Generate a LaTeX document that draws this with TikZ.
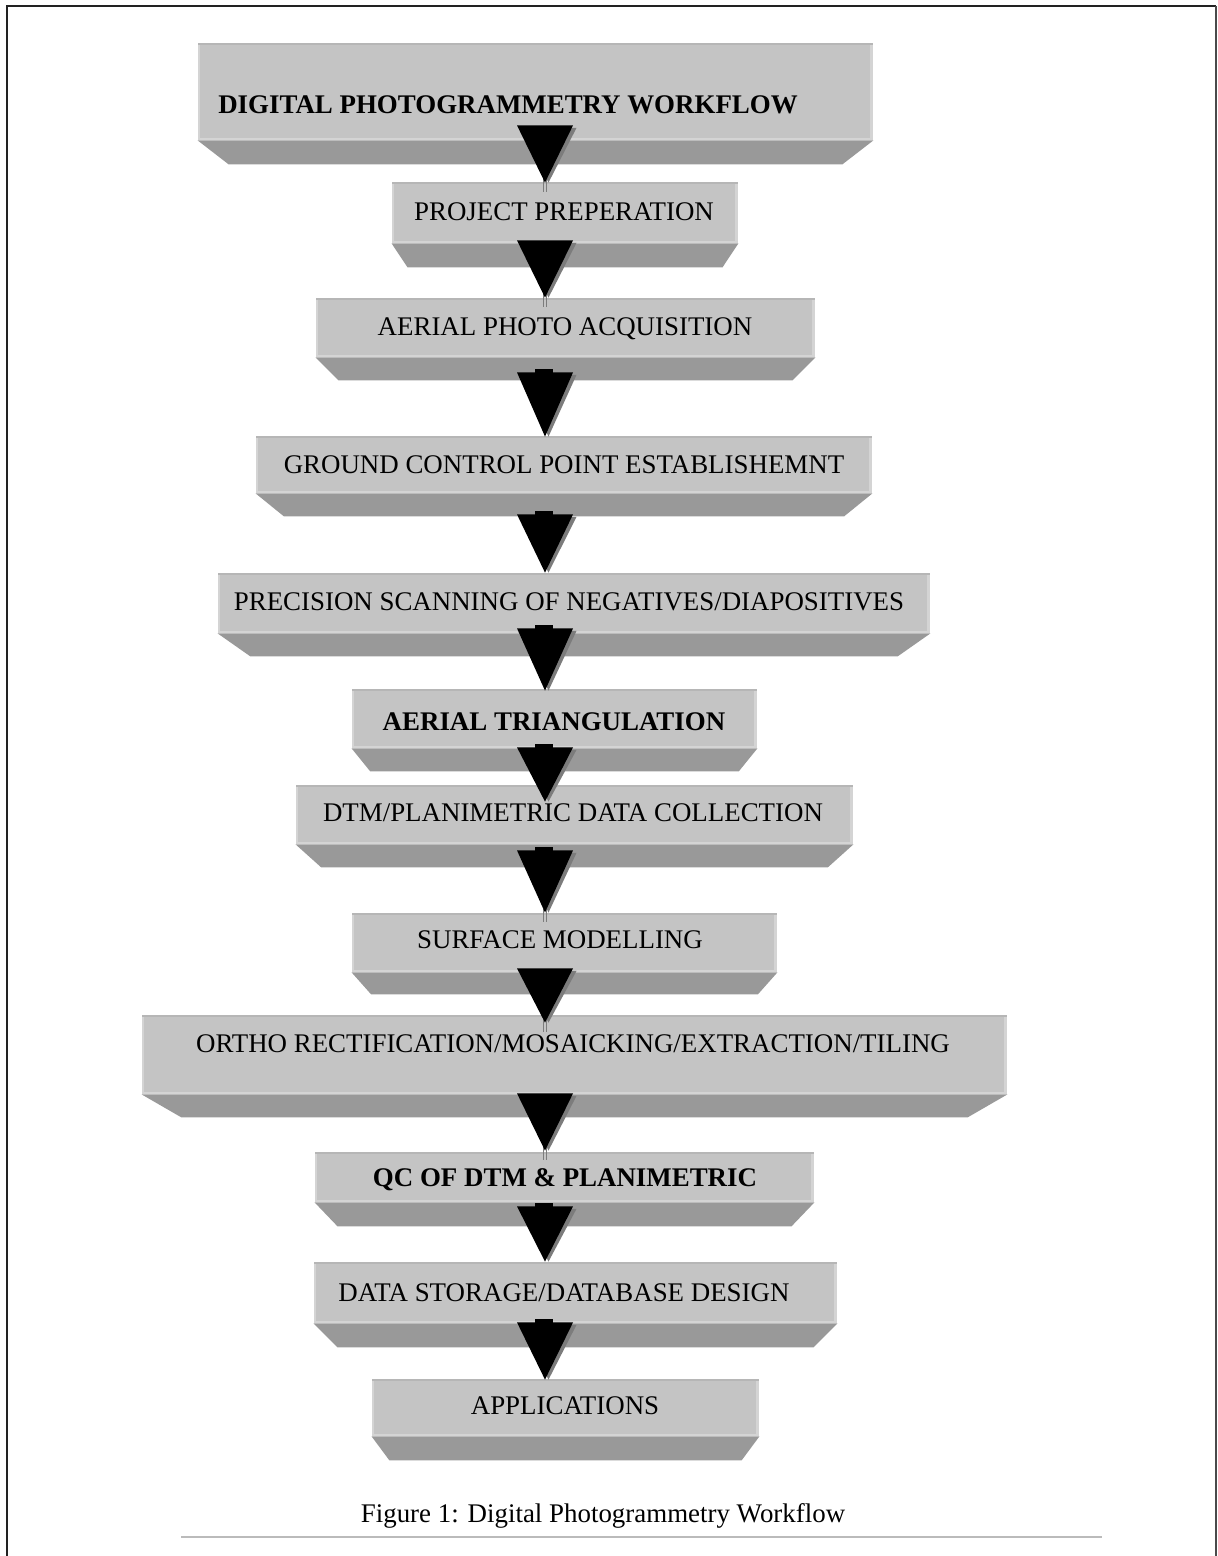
\documentclass[tikz,border=0pt]{standalone}
\usepackage{fontspec}
\setmainfont{Liberation Serif}
\usetikzlibrary{calc,fit}
\definecolor{facec}{HTML}{C4C4C4}
\definecolor{bevelc}{HTML}{999999}
\definecolor{edgetopc}{HTML}{B6B6B6}
\definecolor{edgelightc}{HTML}{D4D4D4}
\definecolor{shadowc}{HTML}{7C7C7C}
\definecolor{rulec}{HTML}{BBBBBB}
\definecolor{framec}{HTML}{222222}
\definecolor{framer}{HTML}{4A4A4A}
\tikzset{
  boxface/.style={rectangle, fill=facec, draw=none, inner sep=0pt},
  lbl/.style={inner sep=0pt, text height=0.66em, text depth=0pt, yshift=-1.5pt, font=\fontsize{13.45}{16}\selectfont},
  stemline/.style={draw=shadowc, line width=0.5pt},
}
\newcommand\mkbox[6]{%
  \node[boxface, fit={(#2,#3) (#4,#5)}] (#1) {};
  \pgfmathsetmacro\ins{0.046*(#4-#2)}
  \fill[bevelc] (#1.south west) -- (#1.south east) -- ($(#1.south east)+(-\ins,#6)$) -- ($(#1.south west)+(\ins,#6)$) -- cycle;
  \fill[edgelightc] (#1.north west) rectangle ($(#1.south west)+(2.5,0)$);
  \fill[edgelightc] ($(#1.north east)+(-3,0)$) rectangle (#1.south east);
  \fill[edgelightc] ($(#1.south west)+(0,-2)$) rectangle (#1.south east);
  \fill[edgetopc] (#1.north west) rectangle ($(#1.north east)+(0,2)$);
}
% #1 from node, #2 to node, #3 top offset from #1 face bottom, #4 tip offset from #2 top, #5 shaft (1/0), #6 stem (1/0)
\newcommand\flowarrow[6]{%
  \coordinate (atop) at ($(tipx |- #1.south)+(0,#3)$);
  \coordinate (atip) at ($(tipx |- #2.north)+(0,#4)$);
  \ifnum#6=1
    \draw[stemline] ($(atip)+(-2,-4)$) -- ++(0,13);
    \draw[stemline] ($(atip)+(1.5,-4)$) -- ++(0,13);
  \fi
  \fill[shadowc] ($(atop)+(-28+3.5,2.5)$) -- ($(atop)+(28+3.5,2.5)$) -- ($(atip)+(3.5,0)$) -- cycle;
  \fill[black] ($(atop)+(-28,0)$) -- ($(atop)+(28,0)$) -- (atip) -- cycle;
  \ifnum#5=1
    \fill[black] ($(atop)+(-10,-3)$) rectangle ($(atop)+(8,0.5)$);
  \fi
}
\begin{document}
\begin{tikzpicture}[x=0.5pt,y=-0.5pt]
\fill[white] (0,0) rectangle (1217,1556);
\useasboundingbox (0,0) rectangle (1217,1556);
\coordinate (tipx) at (545,0);
% frame
\draw[framec, line width=1pt] (7,1556) -- (7,6.5) -- (1215.5,6.5);
\draw[framer, line width=1pt] (1215.5,6.5) -- (1215.5,1556);
% boxes
\mkbox{b1}{198}{43}{873}{140}{24}
\mkbox{b2}{392}{182}{738}{243}{24}
\mkbox{b3}{316}{298}{815}{357}{23}
\mkbox{b4}{256}{436}{872}{493}{23}
\mkbox{b5}{218}{573}{930}{633}{23}
\mkbox{b6}{352}{689}{757}{748}{23}
\mkbox{b7}{296}{785}{853}{844}{23}
\mkbox{b8}{352}{913}{777}{972}{22}
\mkbox{b9}{142}{1015}{1007}{1094}{23}
\mkbox{b10}{315}{1152}{814}{1202}{24}
\mkbox{b11}{314}{1262}{837}{1323}{24}
\mkbox{b12}{372}{1379}{759}{1436}{24}
% labels
\node[lbl] (t1) at (508,104) {\textbf{DIGITAL PHOTOGRAMMETRY WORKFLOW}};
\node[lbl] (t2) at (564,211) {PROJECT PREPERATION};
\node[lbl] (t3) at (565,326) {AERIAL PHOTO ACQUISITION};
\node[lbl] (t4) at (564,464) {GROUND CONTROL POINT ESTABLISHEMNT};
\node[lbl] (t5) at (569,601) {PRECISION SCANNING OF NEGATIVES/DIAPOSITIVES};
\node[lbl] (t6) at (554,721) {\textbf{AERIAL TRIANGULATION}};
\node[lbl] (t7) at (573,812) {DTM/PLANIMETRIC DATA COLLECTION};
\node[lbl] (t8) at (560,939) {SURFACE MODELLING};
\node[lbl] (t9) at (573,1043) {ORTHO RECTIFICATION/MOSAICKING/EXTRACTION/TILING};
\node[lbl] (t10) at (565,1177) {\textbf{QC OF DTM \& PLANIMETRIC}};
\node[lbl] (t11) at (564,1292) {DATA STORAGE/DATABASE DESIGN};
\node[lbl] (t12) at (565,1405) {APPLICATIONS};
% arrows
\flowarrow{b1}{b2}{-15}{1}{0}{1}
\flowarrow{b2}{b3}{-3}{0}{0}{1}
\flowarrow{b3}{b4}{15}{1}{1}{0}
\flowarrow{b4}{b5}{21}{0}{1}{0}
\flowarrow{b5}{b6}{-5}{2}{1}{0}
\flowarrow{b6}{b7}{-1}{17}{1}{0}
\flowarrow{b7}{b8}{6}{0}{1}{1}
\flowarrow{b8}{b9}{-4}{8}{0}{1}
\flowarrow{b9}{b10}{-1}{-1}{0}{1}
\flowarrow{b10}{b11}{4}{0}{1}{0}
\flowarrow{b11}{b12}{-1}{1}{1}{0}
% caption
\node[lbl] (cap) at (603,1513) {Figure 1: Digital Photogrammetry Workflow};
\draw[rulec, line width=0.6pt] (181,1537) -- (1102,1537);
\end{tikzpicture}
\end{document}
